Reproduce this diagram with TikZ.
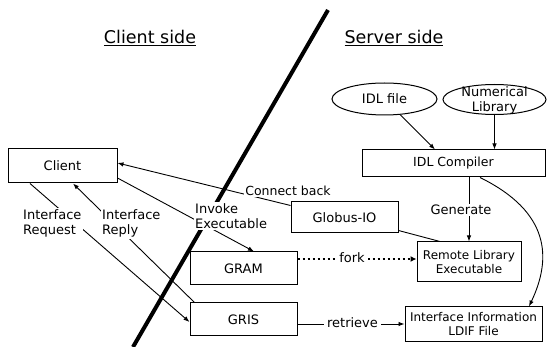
\documentclass[tikz,border=0pt]{standalone}
\usepackage{fontspec}
\setmainfont{DejaVu Sans}
\usetikzlibrary{arrows.meta,shapes.geometric}
\begin{document}
\begin{tikzpicture}[x=1pt,y=-1pt,
  box/.style={draw,line width=1pt,inner sep=0pt,align=center,font=\fontsize{13}{15.5}\selectfont},
  oval/.style={draw,ellipse,line width=1pt,inner sep=0pt},
  txt/.style={inner sep=0pt,align=center,font=\fontsize{13}{15}\selectfont},
  lbl/.style={fill=white,inner sep=1.5pt,align=left,font=\fontsize{13}{15.5}\selectfont},
  conn/.style={line width=0.9pt,-{Latex[length=6pt,width=4.5pt]}},
  thinline/.style={line width=0.9pt},
  head/.style={inner sep=0pt,font=\fontsize{17.5}{20}\selectfont}
]
\useasboundingbox (0,0) rectangle (547,347);

% divider
\draw[line width=4pt] (328,10) -- (133,347);

% headings
\node[head] (hclient) at (150,38) {\underline{Client side}};
\node[head] (hserver) at (394,38) {\underline{Server side}};

% boxes
\node[box,minimum width=109pt,minimum height=34pt] (client) at (62.5,166) {Client};
\node[box,minimum width=107pt,minimum height=33pt] (gram) at (243.5,268.5) {GRAM};
\node[box,minimum width=107pt,minimum height=33pt] (gris) at (243.5,319.5) {GRIS};
\node[box,minimum width=107pt,minimum height=31pt] (globus) at (344.5,217.5) {Globus-IO};
\node[box,minimum width=183pt,minimum height=27pt,font=\fontsize{12.5}{15}\selectfont] (idlc) at (453.5,163.5) {IDL Compiler};
\node[box,minimum width=104pt,minimum height=40pt,font=\fontsize{12}{14}\selectfont] (remote) at (469,262) {Remote Library\\Executable};
\node[box,minimum width=137pt,minimum height=35pt,font=\fontsize{12}{14}\selectfont] (ldif) at (473.5,324.5) {Interface Information\\LDIF File};

% ellipses
\node[oval,minimum width=105pt,minimum height=32pt] (idlfile) at (384.5,99) {};
\node[txt] (idlfiletext) at (idlfile) {IDL file};
\node[oval,minimum width=103pt,minimum height=30pt] (numlib) at (494.5,99.5) {};
\node[txt] (numlibtext) at (494.5,100.5) {Numerical\\Library};

% connectors
\draw[conn] ([yshift=-4pt]globus.north west) -- ([yshift=3pt]client.east);
\node[lbl,font=\fontsize{12.5}{15}\selectfont] (cb) at (288,191) {Connect back};

\draw[thinline] ([yshift=3pt]globus.south east) -- ([xshift=-29pt]remote.north);

\draw[conn] ([yshift=-12pt]client.east) -- ([xshift=10.5pt]gram.north);
\node[lbl,anchor=west,inner sep=1pt] (inv) at (194,216) {Invoke\\Executable};

\draw[conn] ([xshift=-32.5pt]client.south) -- ([yshift=-2.5pt]gris.west);
\node[lbl,anchor=west] (ireq) at (21.5,223.5) {Interface\\Request};

\draw[conn] ([xshift=5pt]gris.north west) -- ([xshift=10.5pt]client.south);
\node[lbl,anchor=west] (irep) at (100.5,223.5) {Interface\\Reply};

\draw[conn] (idlfile) -- ([xshift=-18.5pt]idlc.north);
\draw[conn] (numlib.south) -- (numlib.south |- idlc.north);

\draw[conn] (remote.north |- idlc.south) -- (remote.north);
\node[lbl] (gen) at (461,210) {Generate};

\draw[conn] ([xshift=26.5pt]idlc.south) .. controls (550,212) and (552,258) .. ([xshift=55.5pt]ldif.north);

\draw[line width=2.2pt,dash pattern=on 2.5pt off 2.5pt,-{Latex[length=6pt,width=6pt]}] ([yshift=9.5pt]gram.east) -- ([yshift=9.5pt]gram.east -| remote.west);
\node[lbl,inner sep=3pt] (fork) at (352,258) {fork};

\draw[conn] ([yshift=-4.5pt]gris.east) -- ([yshift=-4.5pt]gris.east -| ldif.west);
\node[lbl,inner sep=3pt] (ret) at (352.5,323) {retrieve};
\end{tikzpicture}
\end{document}
